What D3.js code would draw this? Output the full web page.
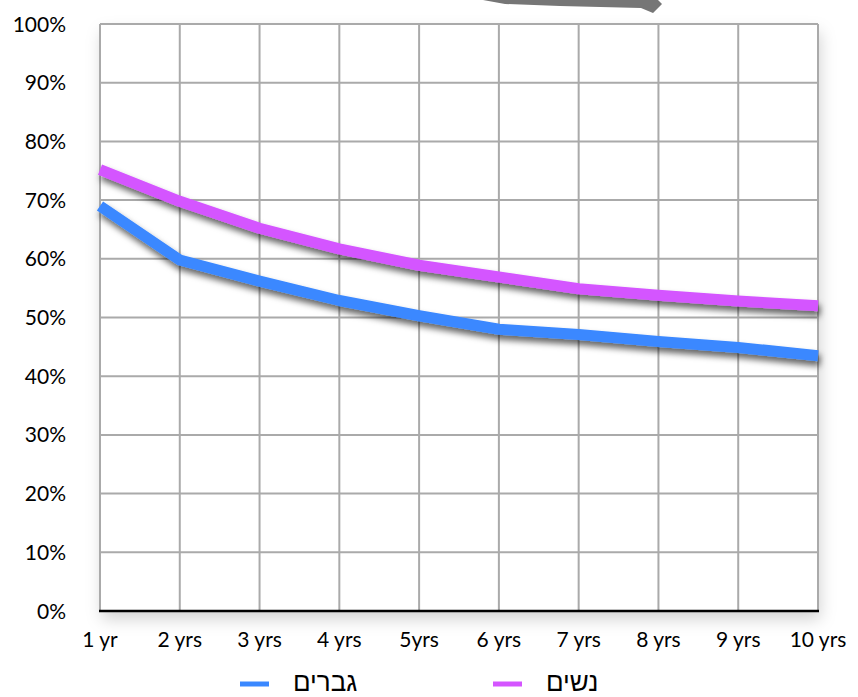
<!DOCTYPE html>
<html>
<head>
<meta charset="utf-8">
<script src="https://cdn.jsdelivr.net/npm/d3@7"></script>
<style>
  html, body { margin: 0; padding: 0; background: #fff; }
  svg { display: block; }
</style>
</head>
<body>
<svg id="chart" width="858" height="697"></svg>
<script>
// Years since start (x categories)
const categories = ["1 yr", "2 yrs", "3 yrs", "4 yrs", "5yrs", "6 yrs", "7 yrs", "8 yrs", "9 yrs", "10 yrs"];
// Share (%) per series
const menValues   = [69, 59.8, 56.2, 52.9, 50.3, 48, 47.1, 45.9, 44.9, 43.5];
const womenValues = [75.2, 69.8, 65.2, 61.7, 58.9, 56.9, 54.9, 53.8, 52.8, 52];
const seriesNames = ["גברים", "נשים"];
const yTicks = [0, 10, 20, 30, 40, 50, 60, 70, 80, 90, 100];

const svg = d3.select("#chart");
const plotLeft = 100, plotRight = 818, plotTop = 24, plotBottom = 611;

const x = d3.scalePoint().domain(categories).range([plotLeft, plotRight]);
const y = d3.scaleLinear().domain([0, 100]).range([plotBottom, plotTop]);

const defs = svg.append("defs");
defs.append("filter").attr("id", "lineShadow")
  .attr("x", "-10%").attr("y", "-30%").attr("width", "130%").attr("height", "180%")
  .append("feDropShadow")
  .attr("dx", 2).attr("dy", 5).attr("stdDeviation", 3)
  .attr("flood-color", "#000").attr("flood-opacity", 0.6);
defs.append("filter").attr("id", "panelShadow")
  .attr("x", "-10%").attr("y", "-10%").attr("width", "130%").attr("height", "130%")
  .append("feDropShadow")
  .attr("dx", 2).attr("dy", 8).attr("stdDeviation", 8)
  .attr("flood-color", "#000").attr("flood-opacity", 0.18);

// decorative callout tail at the top edge
svg.append("path")
  .attr("d", "M483,0 L658,0 L662,4 L653,13 L641,8 L560,6 L505,4 Z")
  .attr("fill", "#767676");

// plot panel
svg.append("rect")
  .attr("x", plotLeft).attr("y", plotTop)
  .attr("width", plotRight - plotLeft).attr("height", plotBottom - plotTop)
  .attr("fill", "#fff")
  .attr("filter", "url(#panelShadow)");

// grid
const grid = svg.append("g").attr("stroke", "#aaaaaa").attr("stroke-width", 2);
grid.selectAll("line.h").data(yTicks.filter(d => d > 0)).join("line")
  .attr("class", "h")
  .attr("x1", plotLeft).attr("x2", plotRight)
  .attr("y1", d => y(d)).attr("y2", d => y(d));
grid.selectAll("line.v").data(categories).join("line")
  .attr("class", "v")
  .attr("x1", d => x(d)).attr("x2", d => x(d))
  .attr("y1", plotTop).attr("y2", plotBottom);

// baseline axis
svg.append("line")
  .attr("x1", plotLeft - 1).attr("x2", plotRight + 1)
  .attr("y1", y(0)).attr("y2", y(0))
  .attr("stroke", "#000").attr("stroke-width", 2.5);

const labelFont = "Lato, 'Open Sans', sans-serif";

// y tick labels
svg.append("g").selectAll("text").data(yTicks).join("text")
  .attr("x", 66).attr("y", d => y(d)).attr("dy", "0.36em")
  .attr("text-anchor", "end")
  .attr("font-family", labelFont)
  .attr("font-size", 21).attr("fill", "#000")
  .text(d => d + "%");

// x tick labels
svg.append("g").selectAll("text").data(categories).join("text")
  .attr("x", d => x(d)).attr("y", 647)
  .attr("text-anchor", "middle")
  .attr("font-family", labelFont)
  .attr("font-size", 21).attr("fill", "#000")
  .text(d => d);

// series lines
const colors = ["#3a88ff", "#d455ff"];
const series = [menValues, womenValues];
const line = d3.line().x((d, i) => x(categories[i])).y(d => y(d));
svg.append("g").selectAll("path").data(series).join("path")
  .attr("d", line)
  .attr("fill", "none")
  .attr("stroke", (d, i) => colors[i])
  .attr("stroke-width", 11)
  .attr("stroke-linecap", "butt")
  .attr("stroke-linejoin", "round")
  .attr("filter", "url(#lineShadow)");

// legend
const legendX = [240, 493];
const legend = svg.append("g").selectAll("g").data(seriesNames).join("g")
  .attr("transform", (d, i) => `translate(${legendX[i]},684)`);
legend.append("line")
  .attr("x1", 0).attr("x2", 29).attr("y1", 0).attr("y2", 0)
  .attr("stroke", (d, i) => colors[i]).attr("stroke-width", 5);
legend.append("text")
  .attr("x", 53).attr("y", 7)
  .attr("font-family", "'Liberation Sans', 'DejaVu Sans', sans-serif")
  .attr("font-size", 26).attr("fill", "#000")
  .attr("text-anchor", "start")
  .text(d => d);
</script>
</body>
</html>
